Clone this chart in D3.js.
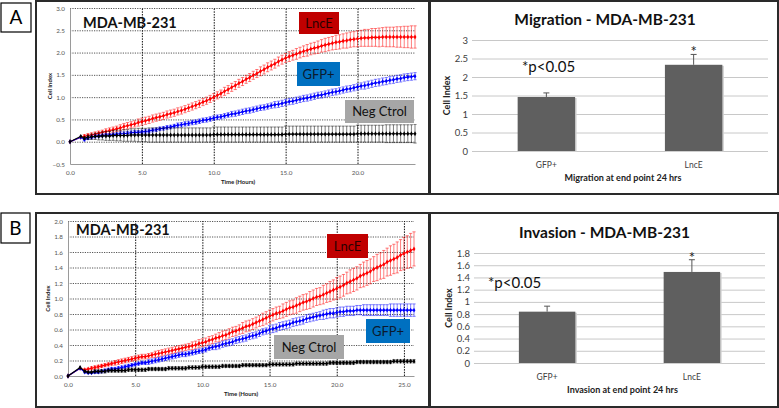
<!DOCTYPE html>
<html><head><meta charset="utf-8">
<script src="https://cdn.jsdelivr.net/npm/d3@7"></script>
<style>body{margin:0;background:#fff}svg{display:block}text{font-family:Lato,"Open Sans",sans-serif}</style>
</head><body><svg id="c" width="779" height="408"></svg>
<script>
// ---------------- DATA ----------------
// Panel A (migration, real-time)
const timeA = [0,0.75,1,1.25,1.5,1.75,2,2.25,2.5,2.75,3,3.25,3.5,3.75,4,4.25,4.5,4.75,5,5.25,5.5,5.75,6,6.25,6.5,6.75,7,7.25,7.5,7.75,8,8.25,8.5,8.75,9,9.25,9.5,9.75,10,10.25,10.5,10.75,11,11.25,11.5,11.75,12,12.25,12.5,12.75,13,13.25,13.5,13.75,14,14.25,14.5,14.75,15,15.25,15.5,15.75,16,16.25,16.5,16.75,17,17.25,17.5,17.75,18,18.25,18.5,18.75,19,19.25,19.5,19.75,20,20.25,20.5,20.75,21,21.25,21.5,21.75,22,22.25,22.5,22.75,23,23.25,23.5,23.75,24];
const lncA = [0,0.10,
0.12,0.14,0.15,0.17, 0.19,0.21,0.23,0.25, 0.27,0.29,0.31,0.34, 0.36,0.38,0.40,0.43,
0.45,0.47,0.49,0.52, 0.54,0.56,0.58,0.61, 0.63,0.65,0.68,0.70, 0.73,0.76,0.79,0.82,
0.85,0.89,0.92,0.96, 1.00,1.04,1.08,1.13, 1.17,1.22,1.26,1.31, 1.35,1.40,1.44,1.49,
1.53,1.58,1.62,1.67, 1.71,1.75,1.80,1.84, 1.88,1.91,1.94,1.97, 2.00,2.03,2.05,2.08,
2.10,2.12,2.15,2.17, 2.19,2.21,2.23,2.24, 2.26,2.27,2.29,2.30, 2.31,2.32,2.33,2.33,
2.34,2.34,2.34,2.35, 2.35,2.35,2.35,2.35, 2.35,2.35,2.35,2.35, 2.35];
const lncErrA = [0,0,
0.04,0.04,0.05,0.05, 0.05,0.05,0.06,0.06, 0.06,0.06,0.07,0.07, 0.07,0.07,0.07,0.08,
0.08,0.08,0.08,0.08, 0.08,0.08,0.08,0.08, 0.08,0.08,0.08,0.08, 0.08,0.08,0.08,0.08,
0.08,0.08,0.08,0.08, 0.08,0.08,0.08,0.09, 0.09,0.09,0.09,0.09, 0.09,0.09,0.09,0.09,
0.09,0.10,0.10,0.10, 0.10,0.10,0.10,0.10, 0.10,0.11,0.11,0.12, 0.12,0.12,0.13,0.13,
0.13,0.14,0.14,0.15, 0.15,0.15,0.16,0.16, 0.16,0.17,0.17,0.17, 0.18,0.18,0.19,0.19,
0.20,0.20,0.21,0.21, 0.22,0.22,0.22,0.23, 0.23,0.24,0.24,0.25, 0.25];
const gfpA = [0,0.10,
0.05,0.08,0.10,0.12, 0.13,0.14,0.15,0.15, 0.16,0.17,0.18,0.18, 0.19,0.20,0.21,0.21,
0.22,0.23,0.24,0.26, 0.27,0.29,0.30,0.32, 0.33,0.35,0.37,0.38, 0.40,0.41,0.43,0.44,
0.46,0.48,0.49,0.51, 0.53,0.55,0.56,0.58, 0.60,0.62,0.63,0.65, 0.67,0.69,0.70,0.72,
0.74,0.76,0.77,0.79, 0.81,0.83,0.84,0.86, 0.88,0.90,0.91,0.93, 0.95,0.97,0.98,1.00,
1.02,1.04,1.05,1.07, 1.09,1.11,1.12,1.14, 1.16,1.18,1.19,1.21, 1.23,1.25,1.26,1.28,
1.30,1.32,1.33,1.35, 1.36,1.38,1.39,1.41, 1.42,1.44,1.45,1.46, 1.47];
const gfpErrA = [0,0,
0.03,0.03,0.03,0.03, 0.03,0.03,0.03,0.03, 0.03,0.03,0.04,0.04, 0.04,0.04,0.04,0.04,
0.04,0.04,0.04,0.04, 0.04,0.04,0.04,0.04, 0.04,0.04,0.05,0.05, 0.05,0.05,0.05,0.05,
0.05,0.05,0.05,0.05, 0.05,0.05,0.05,0.05, 0.05,0.06,0.06,0.06, 0.06,0.06,0.06,0.06,
0.06,0.06,0.06,0.06, 0.06,0.07,0.07,0.07, 0.07,0.07,0.07,0.07, 0.07,0.07,0.07,0.07,
0.07,0.07,0.07,0.07, 0.07,0.07,0.07,0.07, 0.07,0.07,0.07,0.07, 0.07,0.07,0.08,0.08,
0.08,0.08,0.08,0.08, 0.08,0.08,0.08,0.08, 0.08,0.08,0.08,0.08, 0.08];
const negA = [0,0.12,
0.08,0.10,0.11,0.12, 0.12,0.13,0.13,0.13, 0.14,0.14,0.14,0.14, 0.14,0.15,0.15,0.15,
0.15,0.15,0.15,0.15, 0.15,0.15,0.15,0.15, 0.15,0.15,0.15,0.15, 0.15,0.15,0.15,0.15,
0.15,0.15,0.15,0.15, 0.16,0.16,0.16,0.16, 0.16,0.16,0.16,0.16, 0.16,0.16,0.16,0.16,
0.16,0.16,0.16,0.16, 0.16,0.16,0.16,0.16, 0.17,0.17,0.17,0.17, 0.17,0.17,0.17,0.17,
0.17,0.17,0.17,0.17, 0.17,0.17,0.17,0.17, 0.17,0.17,0.17,0.17, 0.18,0.18,0.18,0.18,
0.18,0.18,0.18,0.18, 0.18,0.18,0.18,0.18, 0.18,0.18,0.18,0.18, 0.18];
const negErrA = [0,0,
0.03,0.05,0.06,0.07, 0.08,0.09,0.10,0.10, 0.11,0.12,0.12,0.13, 0.13,0.14,0.14,0.15,
0.15,0.15,0.16,0.16, 0.16,0.16,0.16,0.16, 0.16,0.16,0.16,0.16, 0.16,0.16,0.16,0.16,
0.16,0.16,0.16,0.16, 0.17,0.17,0.17,0.17, 0.17,0.17,0.17,0.17, 0.17,0.17,0.17,0.17,
0.17,0.17,0.17,0.17, 0.17,0.17,0.17,0.17, 0.18,0.18,0.18,0.18, 0.18,0.18,0.18,0.18,
0.18,0.18,0.18,0.18, 0.18,0.18,0.18,0.18, 0.18,0.18,0.18,0.18, 0.19,0.19,0.19,0.19,
0.19,0.19,0.19,0.19, 0.20,0.20,0.20,0.20, 0.20,0.20,0.20,0.20, 0.21];

// Panel B (invasion, real-time)
const timeB = [0,0.9,1.25,1.5,1.75,2,2.25,2.5,2.75,3,3.25,3.5,3.75,4,4.25,4.5,4.75,5,5.25,5.5,5.75,6,6.25,6.5,6.75,7,7.25,7.5,7.75,8,8.25,8.5,8.75,9,9.25,9.5,9.75,10,10.25,10.5,10.75,11,11.25,11.5,11.75,12,12.25,12.5,12.75,13,13.25,13.5,13.75,14,14.25,14.5,14.75,15,15.25,15.5,15.75,16,16.25,16.5,16.75,17,17.25,17.5,17.75,18,18.25,18.5,18.75,19,19.25,19.5,19.75,20,20.25,20.5,20.75,21,21.25,21.5,21.75,22,22.25,22.5,22.75,23,23.25,23.5,23.75,24,24.25,24.5,24.75,25,25.25,25.5,25.75];
const lncB = [0,0.10, 0.08,0.09,0.10,
0.11,0.12,0.13,0.14, 0.15,0.16,0.17,0.18, 0.19,0.20,0.21,0.22, 0.23,0.24,0.25,0.25,
0.26,0.27,0.28,0.29, 0.30,0.31,0.32,0.33, 0.34,0.35,0.36,0.37, 0.38,0.39,0.40,0.42,
0.43,0.44,0.46,0.47, 0.49,0.50,0.52,0.53, 0.55,0.57,0.58,0.60, 0.62,0.64,0.65,0.67,
0.69,0.71,0.73,0.75, 0.77,0.79,0.81,0.82, 0.84,0.86,0.88,0.89, 0.91,0.93,0.95,0.96,
0.98,1.00,1.02,1.03, 1.05,1.07,1.09,1.11, 1.13,1.15,1.17,1.20, 1.22,1.24,1.26,1.29,
1.31,1.33,1.35,1.38, 1.40,1.42,1.44,1.47, 1.49,1.51,1.53,1.56, 1.58,1.60,1.62,1.64];
const lncErrB = [0,0, 0.01,0.01,0.02,
0.02,0.02,0.02,0.02, 0.02,0.02,0.03,0.03, 0.03,0.03,0.03,0.03, 0.03,0.03,0.03,0.03,
0.03,0.03,0.04,0.04, 0.04,0.04,0.04,0.04, 0.04,0.04,0.04,0.04, 0.04,0.05,0.05,0.05,
0.05,0.05,0.05,0.05, 0.05,0.06,0.06,0.06, 0.06,0.06,0.06,0.06, 0.07,0.07,0.07,0.07,
0.07,0.07,0.08,0.08, 0.08,0.08,0.08,0.08, 0.09,0.09,0.09,0.09, 0.10,0.10,0.10,0.10,
0.11,0.11,0.11,0.11, 0.12,0.12,0.13,0.13, 0.14,0.14,0.14,0.14, 0.15,0.15,0.15,0.15,
0.16,0.16,0.16,0.16, 0.17,0.17,0.18,0.18, 0.19,0.19,0.20,0.20, 0.21,0.21,0.22,0.22];
const gfpB = [0,0.10, 0.05,0.04,0.04,
0.05,0.05,0.06,0.07, 0.08,0.09,0.09,0.10, 0.11,0.12,0.13,0.14, 0.15,0.16,0.17,0.17,
0.18,0.19,0.20,0.21, 0.22,0.23,0.24,0.25, 0.26,0.27,0.28,0.28, 0.29,0.30,0.31,0.32,
0.33,0.34,0.36,0.37, 0.38,0.39,0.41,0.42, 0.43,0.44,0.46,0.47, 0.48,0.49,0.51,0.52,
0.53,0.55,0.57,0.58, 0.60,0.61,0.62,0.64, 0.65,0.66,0.67,0.69, 0.70,0.71,0.72,0.74,
0.75,0.76,0.77,0.78, 0.79,0.80,0.81,0.81, 0.82,0.83,0.83,0.84, 0.84,0.84,0.85,0.85,
0.85,0.85,0.85,0.85, 0.85,0.85,0.85,0.85, 0.85,0.85,0.85,0.85, 0.85,0.85,0.85,0.85];
const gfpErrB = [0,0, 0.01,0.01,0.01,
0.02,0.02,0.02,0.02, 0.02,0.02,0.02,0.02, 0.02,0.02,0.02,0.02, 0.02,0.02,0.02,0.02,
0.03,0.03,0.03,0.03, 0.03,0.03,0.03,0.03, 0.03,0.03,0.03,0.03, 0.03,0.03,0.03,0.03,
0.03,0.03,0.03,0.03, 0.04,0.04,0.04,0.04, 0.04,0.04,0.04,0.04, 0.04,0.04,0.04,0.04,
0.04,0.04,0.04,0.04, 0.05,0.05,0.05,0.05, 0.05,0.05,0.05,0.05, 0.05,0.05,0.05,0.05,
0.05,0.05,0.05,0.05, 0.06,0.06,0.06,0.06, 0.06,0.06,0.06,0.06, 0.06,0.06,0.06,0.06,
0.07,0.07,0.07,0.07, 0.07,0.07,0.07,0.07, 0.08,0.08,0.08,0.08, 0.08,0.08,0.08,0.08];
const negB = [0,0.11, 0.06,0.05,0.05,
0.06,0.06,0.06,0.06, 0.07,0.07,0.07,0.07, 0.07,0.07,0.08,0.08, 0.08,0.08,0.08,0.08,
0.09,0.09,0.09,0.09, 0.09,0.09,0.10,0.10, 0.10,0.10,0.10,0.10, 0.11,0.11,0.11,0.11,
0.12,0.12,0.12,0.12, 0.12,0.12,0.13,0.13, 0.13,0.13,0.13,0.13, 0.14,0.14,0.14,0.14,
0.14,0.14,0.14,0.14, 0.15,0.15,0.15,0.15, 0.15,0.15,0.15,0.15, 0.16,0.16,0.16,0.16,
0.16,0.16,0.16,0.16, 0.16,0.16,0.17,0.17, 0.17,0.17,0.17,0.17, 0.17,0.17,0.18,0.18,
0.18,0.18,0.18,0.18, 0.18,0.18,0.18,0.18, 0.18,0.19,0.19,0.19, 0.19,0.19,0.19,0.19];
const negErrB = [0,0, 0.01,0.01,0.01,
0.02,0.02,0.02,0.02, 0.02,0.02,0.02,0.02, 0.02,0.02,0.02,0.02, 0.02,0.02,0.02,0.02,
0.02,0.02,0.02,0.02, 0.02,0.02,0.02,0.02, 0.02,0.02,0.02,0.02, 0.02,0.02,0.02,0.02,
0.02,0.02,0.02,0.02, 0.02,0.02,0.02,0.02, 0.02,0.02,0.02,0.02, 0.02,0.02,0.02,0.02,
0.02,0.02,0.02,0.02, 0.02,0.02,0.02,0.02, 0.02,0.02,0.02,0.02, 0.02,0.02,0.02,0.02,
0.02,0.02,0.02,0.02, 0.02,0.02,0.02,0.02, 0.02,0.02,0.02,0.02, 0.02,0.02,0.02,0.02,
0.02,0.02,0.02,0.02, 0.02,0.02,0.02,0.02, 0.02,0.02,0.02,0.02, 0.02,0.02,0.02,0.02];

// Axis ticks for line charts
const yTicksLineA = [-0.5,0,0.5,1,1.5,2,2.5,3];
const xTicksLineA = [0,5,10,15,20];
const yTicksLineB = [0,0.2,0.4,0.6,0.8,1,1.2,1.4,1.6,1.8,2];
const xTicksLineB = [0,5,10,15,20,25];

// Endpoint bar charts
const barCategories = ["GFP+","LncE"];
const migrationVals = [1.46,2.33];
const migrationErr = [0.11,0.28];
const invasionVals = [0.84,1.49];
const invasionErr = [0.09,0.20];
const yTicksMig = [0,0.5,1,1.5,2,2.5,3];
const yTicksInv = [0,0.2,0.4,0.6,0.8,1,1.2,1.4,1.6,1.8];

// ---------------- DRAWING ----------------
const svg = d3.select('#c');

function frame(x,y,w,h,sw){
  svg.append('rect').attr('x',x).attr('y',y).attr('width',w).attr('height',h)
    .attr('fill','none').attr('stroke','#2a2a2a').attr('stroke-width',sw||2);
}
function letterBox(x,y,w,h,t){
  svg.append('rect').attr('x',x).attr('y',y).attr('width',w).attr('height',h)
    .attr('fill','#fff').attr('stroke','#000').attr('stroke-width',1.2);
  svg.append('text').attr('x',x+w/2).attr('y',y+h/2+6.5).attr('text-anchor','middle')
    .attr('font-size',19).attr('fill','#000').text(t);
}
function tagBox(x,y,w,h,fill,txt,tc){
  svg.append('rect').attr('x',x).attr('y',y).attr('width',w).attr('height',h).attr('fill',fill);
  svg.append('text').attr('x',x+w/2).attr('y',y+h/2+4.5).attr('text-anchor','middle')
    .attr('font-size',13).attr('fill',tc).text(txt);
}

function lineChart(o){
  const x = d3.scaleLinear().domain(o.xDomain).range([o.left,o.right]);
  const y = d3.scaleLinear().domain(o.yDomain).range([o.bottom,o.top]);
  const g = svg.append('g');
  g.append('g').attr('transform',`translate(${o.left},0)`)
    .call(d3.axisLeft(y).tickValues(o.yTicks.filter(v=>v!==o.yDomain[0])).tickSize(-(o.right-o.left)).tickFormat(''))
    .call(s=>{s.select('.domain').remove();
      s.selectAll('line').attr('stroke','#444').attr('stroke-width',0.9).attr('stroke-dasharray','1.2,1.2');});
  g.append('g').attr('transform',`translate(0,${o.bottom})`)
    .call(d3.axisBottom(x).tickValues(o.xTicks.filter(v=>v!==o.xDomain[0])).tickSize(-(o.bottom-o.top)).tickFormat(''))
    .call(s=>{s.select('.domain').remove();
      s.selectAll('line').attr('stroke','#111').attr('stroke-width',1).attr('stroke-dasharray','1.5,1.2');});
  g.append('g').attr('transform',`translate(${o.left},0)`)
    .call(d3.axisLeft(y).tickValues(o.yTicks).tickFormat(d3.format('.1f')).tickSize(0).tickPadding(5))
    .call(s=>{s.select('.domain').attr('stroke','#9a9a9a').attr('stroke-width',1);
      s.selectAll('text').attr('font-size',6.3).attr('fill','#555').attr('font-family','Lato');});
  g.append('g').attr('transform',`translate(0,${o.bottom})`)
    .call(d3.axisBottom(x).tickValues(o.xTicks).tickFormat(d3.format('.1f')).tickSize(0).tickPadding(7))
    .call(s=>{s.select('.domain').attr('stroke','#9a9a9a').attr('stroke-width',1);
      s.selectAll('text').attr('font-size',6.3).attr('fill','#555').attr('font-family','Lato');});
  g.append('text').attr('transform',`translate(${o.left-18},${(o.top+o.bottom)/2}) rotate(-90)`)
    .attr('text-anchor','middle').attr('font-size',6).attr('font-weight','bold').attr('fill','#222').text('Cell Index');
  g.append('text').attr('x',o.xTitleX).attr('y',o.bottom+20)
    .attr('text-anchor','middle').attr('font-size',6).attr('font-weight','bold').attr('fill','#222').text('Time (Hours)');
  const sym = d3.symbol().type(d3.symbolDiamond).size(7);
  o.series.forEach(s=>{
    const pts = o.times.map((t,i)=>({t, v:s.vals[i], e:s.errs[i]||0})).filter(p=>p.v!==undefined);
    const eg = g.append('g').attr('stroke',s.color).attr('stroke-width',0.6).attr('opacity',0.85);
    pts.filter(p=>p.e>0).forEach(p=>{
      const xx=x(p.t), y1=y(p.v+p.e), y2=y(p.v-p.e);
      eg.append('line').attr('x1',xx).attr('x2',xx).attr('y1',y1).attr('y2',y2);
      eg.append('line').attr('x1',xx-1.6).attr('x2',xx+1.6).attr('y1',y1).attr('y2',y1);
      eg.append('line').attr('x1',xx-1.6).attr('x2',xx+1.6).attr('y1',y2).attr('y2',y2);
    });
    g.append('path').datum(pts).attr('fill','none').attr('stroke',s.color).attr('stroke-width',1.1)
      .attr('d',d3.line().x(p=>x(p.t)).y(p=>y(p.v)));
    g.append('g').selectAll('path').data(pts).join('path')
      .attr('transform',p=>`translate(${x(p.t)},${y(p.v)})`).attr('d',sym).attr('fill',s.color);
  });
  g.append('text').attr('x',o.titleX).attr('y',o.titleY).attr('font-size',14.5).attr('font-weight','bold')
    .attr('fill','#111').text('MDA-MB-231');
}

function barChart(o){
  const x = d3.scaleBand().domain(barCategories).range([o.left,o.right]).paddingInner(0.61).paddingOuter(0.31);
  const y = d3.scaleLinear().domain(o.yDomain).range([o.bottom,o.top]);
  const g = svg.append('g');
  g.append('g').attr('transform',`translate(${o.left},0)`)
    .call(d3.axisLeft(y).tickValues(o.yTicks).tickSize(-(o.right-o.left)).tickPadding(4).tickFormat(d=>String(+d.toFixed(1))))
    .call(s=>{s.select('.domain').remove();
      s.selectAll('line').attr('stroke','#c8c8c8').attr('stroke-width',1);
      s.selectAll('text').attr('font-size',9.5).attr('fill','#404040').attr('font-family','Lato');});
  barCategories.forEach((c,i)=>{
    g.append('rect').attr('x',x(c)+1.5).attr('y',y(o.vals[i])+1).attr('width',x.bandwidth()).attr('height',y(0)-y(o.vals[i]))
      .attr('fill','#cfcfcf');
    g.append('rect').attr('x',x(c)).attr('y',y(o.vals[i])).attr('width',x.bandwidth()).attr('height',y(0)-y(o.vals[i]))
      .attr('fill','#5f5f5f');
    const cx = x(c)+x.bandwidth()/2, yt=y(o.vals[i]+o.errs[i]);
    g.append('line').attr('x1',cx).attr('x2',cx).attr('y1',y(o.vals[i])).attr('y2',yt).attr('stroke','#555').attr('stroke-width',1);
    g.append('line').attr('x1',cx-3).attr('x2',cx+3).attr('y1',yt).attr('y2',yt).attr('stroke','#555').attr('stroke-width',1);
    g.append('text').attr('x',cx).attr('y',o.bottom+17).attr('text-anchor','middle').attr('font-size',8.5)
      .attr('fill','#404040').text(c);
    if(i===1){
      g.append('text').attr('x',cx).attr('y',yt+3).attr('text-anchor','middle').attr('font-size',15)
        .attr('fill','#222').text('*');
    }
  });
  g.append('text').attr('transform',`translate(${o.left-22},${(o.top+o.bottom)/2}) rotate(-90)`)
    .attr('text-anchor','middle').attr('font-size',9).attr('font-weight','bold').attr('fill','#222').text('Cell Index');
  g.append('text').attr('x',(o.left+o.right)/2+3).attr('y',o.bottom+30).attr('text-anchor','middle')
    .attr('font-size',9).attr('font-weight','bold').attr('fill','#222').text(o.xTitle);
  g.append('text').attr('x',(o.left+o.right)/2-15).attr('y',o.titleY).attr('text-anchor','middle')
    .attr('font-size',15.5).attr('font-weight','bold').attr('fill','#111').text(o.title);
  g.append('text').attr('x',o.pX).attr('y',o.pY).attr('font-size',15).attr('fill','#111').text('*p<0.05');
}

frame(36,1,393,193);
frame(430,1,348,193);
frame(36,213,393,194);
frame(430,213,348,194);
letterBox(1,3,30,29,'A');
letterBox(1,213,29,30,'B');

lineChart({times:timeA, xDomain:[0,24], yDomain:[-0.5,3], left:70, right:415, top:8, bottom:164,
  yTicks:yTicksLineA, xTicks:xTicksLineA, xTitleX:238, titleX:83, titleY:28,
  series:[{vals:lncA,errs:lncErrA,color:'#ff0000'},{vals:gfpA,errs:gfpErrA,color:'#0000ff'},{vals:negA,errs:negErrA,color:'#000000'}]});
tagBox(299,12,40,22,'#c00000','LncE','#2a0000');
tagBox(297,62,43,24,'#0070c0','GFP+','#0b1a2e');
tagBox(345,100,69,23,'#a6a6a6','Neg Ctrol','#111');

lineChart({times:timeB, xDomain:[0,25.75], yDomain:[0,2], left:68, right:414, top:221, bottom:376,
  yTicks:yTicksLineB, xTicks:xTicksLineB, xTitleX:241, titleX:76, titleY:235,
  series:[{vals:lncB,errs:lncErrB,color:'#ff0000'},{vals:gfpB,errs:gfpErrB,color:'#0000ff'},{vals:negB,errs:negErrB,color:'#000000'}]});
tagBox(327,234,41,24,'#c00000','LncE','#2a0000');
tagBox(366,319,44,24,'#0070c0','GFP+','#0b1a2e');
tagBox(274,335,70,24,'#a6a6a6','Neg Ctrol','#111');

barChart({left:472,right:768,top:40,bottom:151,yDomain:[0,3],yTicks:yTicksMig,vals:migrationVals,errs:migrationErr,
  title:'Migration - MDA-MB-231',titleY:25,xTitle:'Migration at end point 24 hrs',pX:522,pY:72});
barChart({left:474,right:765,top:253,bottom:363,yDomain:[0,1.8],yTicks:yTicksInv,vals:invasionVals,errs:invasionErr,
  title:'Invasion - MDA-MB-231',titleY:238,xTitle:'Invasion at end point 24 hrs',pX:488,pY:288});
</script></body></html>
